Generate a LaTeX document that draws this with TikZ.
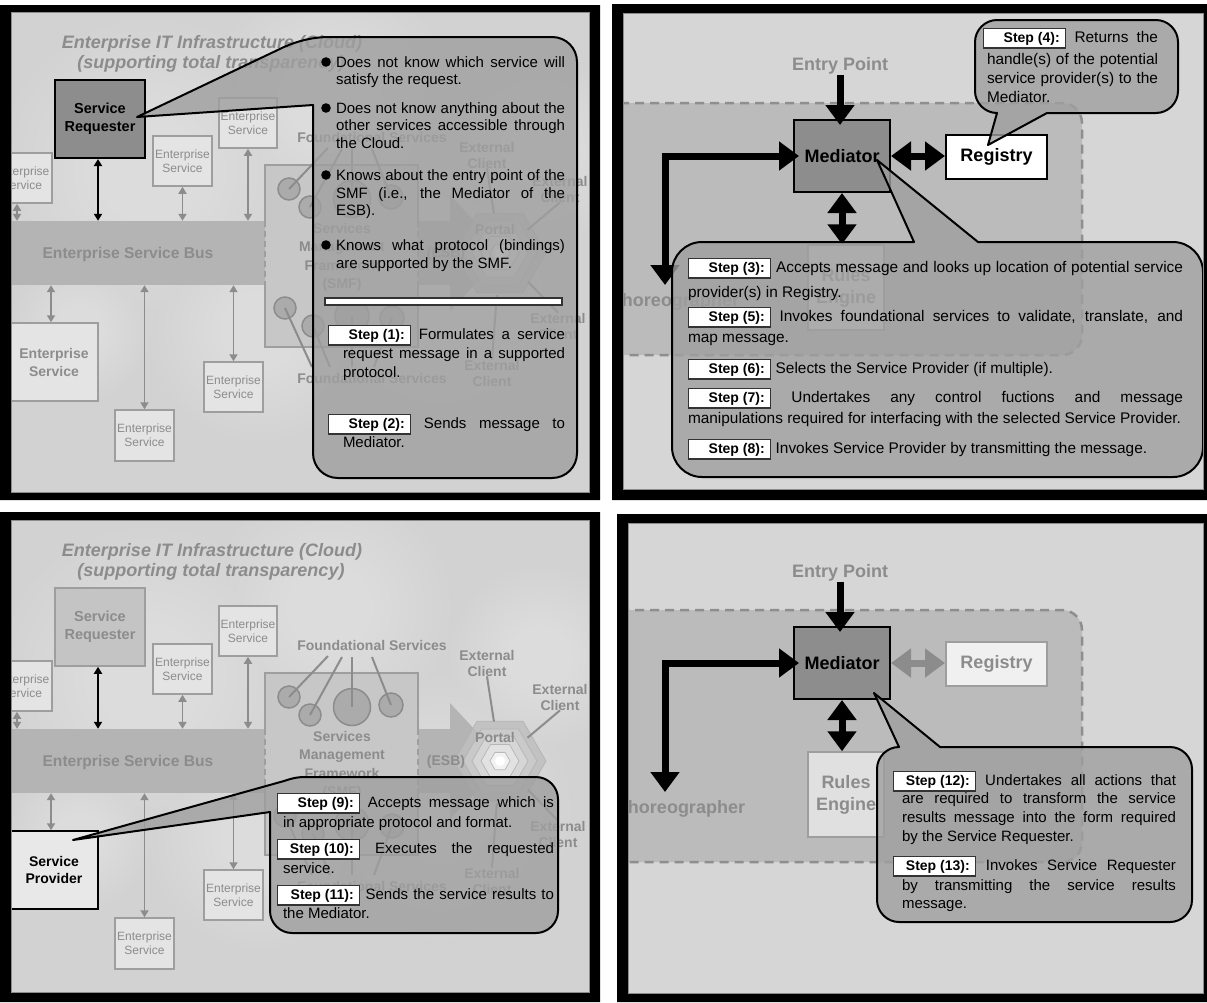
\documentclass[tikz,border=0pt]{standalone}
\usepackage{fontspec}
\setmainfont{Liberation Sans}
\usetikzlibrary{arrows.meta,shapes.geometric,calc}

\definecolor{fadetxt}{HTML}{8C8C8C}
\definecolor{esfill}{HTML}{E4E4E4}
\definecolor{esdraw}{HTML}{9E9E9E}
\definecolor{busfill}{HTML}{B4B4B4}
\definecolor{smffill}{HTML}{C7C7C7}
\definecolor{circfill}{HTML}{ABABAB}
\definecolor{bgcloud}{HTML}{D2D2D2}
\definecolor{bgflat}{HTML}{D6D6D6}
\definecolor{regfill}{HTML}{BBBBBB}
\definecolor{regdash}{HTML}{8E8E8E}
\definecolor{medfill}{HTML}{8D8D8D}
\definecolor{callfill}{HTML}{9F9F9F}

\newcommand\stepbx[1]{{\setlength\fboxsep{2.5pt}\setlength\fboxrule{1.2pt}\fcolorbox{black!80}{white}{\makebox[76pt][r]{\fontsize{14}{14}\selectfont\bfseries #1\hspace{3pt}}}}}
\newcommand\jl[2]{\makebox[#1pt][s]{#2}}

\tikzset{
 txt/.style={inner sep=0,outer sep=0,anchor=base west,font=\fontsize{15}{18}\selectfont,text=black},
 txtb/.style={txt,font=\fontsize{15.4}{18}\selectfont},
 ttl/.style={inner sep=0,font=\fontsize{18}{20}\selectfont\bfseries\itshape,text=fadetxt},
 flbl/.style={inner sep=0,font=\fontsize{14}{16}\selectfont\bfseries,text=fadetxt,align=center},
 esbox/.style={draw=esdraw,fill=esfill,line width=1.5pt,text=fadetxt,font=\fontsize{12}{14}\selectfont,align=center,inner sep=0},
 esbig/.style={esbox,font=\fontsize{14}{18}\selectfont\bfseries},
 srdark/.style={draw=black,fill=medfill,line width=2pt,font=\fontsize{14.5}{18}\selectfont\bfseries,align=center,inner sep=0},
 srfade/.style={draw=esdraw,fill=black!23,line width=1.5pt,text=fadetxt,font=\fontsize{14.5}{18}\selectfont\bfseries,align=center,inner sep=0},
 spbox/.style={draw=black,fill=black!9,line width=1.5pt,font=\fontsize{14}{17}\selectfont\bfseries,align=center,inner sep=0},
 smfbox/.style={fill=smffill,inner sep=0},
 smfline/.style={draw=esdraw,line width=1.5pt},
 fcirc/.style={circle,draw=fadetxt,fill=circfill,line width=1.5pt,inner sep=0},
 fline/.style={draw=fadetxt,line width=2pt},
 hexa/.style={regular polygon,regular polygon sides=6,inner sep=0,draw=black!30,line width=0.8pt,opacity=0.85},
 garrow/.style={draw=fadetxt,line width=1.8pt,{Triangle[length=7pt,width=8pt]}-{Triangle[length=7pt,width=8pt]}},
 bigl/.style={inner sep=0,font=\fontsize{18}{20}\selectfont\bfseries,text=fadetxt},
 rulesbox/.style={draw=esdraw,fill=black!12,line width=1.5pt,text=fadetxt,font=\fontsize{18}{22}\selectfont\bfseries,align=center,inner sep=0},
 medbox/.style={draw=black,fill=medfill,line width=2pt,font=\fontsize{18}{20}\selectfont\bfseries,inner sep=0},
 regon/.style={draw=black,fill=white,line width=2pt,font=\fontsize{18}{20}\selectfont\bfseries,inner sep=0},
 regoff/.style={draw=esdraw,fill=black!6,line width=2pt,text=fadetxt,font=\fontsize{18}{20}\selectfont\bfseries,inner sep=0},
 bigarrow/.style={line width=7pt,draw=black,>={Triangle[length=20pt,width=28pt]}},
 regionst/.style={fill=regfill,draw=regdash,line width=2.5pt,dash pattern=on 9pt off 6pt},
 bubble/.style={fill=callfill,fill opacity=0.8,draw=black,line width=2pt,line join=round},
 bar/.style={draw=black!80,fill=white,line width=1.3pt,inner sep=0},
}

% scene of panels 1 and 3 (panel-1 coordinates)
\newcommand\cloudscene[3]{%
 \foreach \k in {1.0,0.93,0.86,0.79,0.72,0.65,0.58,0.51,0.44,0.37}{%
  \fill[white,opacity=0.04] (150,170) circle[radius=150*\k] (330,100) circle[radius=120*\k] (440,300) circle[radius=130*\k] (260,330) circle[radius=110*\k] (540,150) circle[radius=90*\k] (80,330) circle[radius=70*\k];}
 \node[ttl] (ttl1) at (212,44) {Enterprise IT Infrastructure (Cloud)};
 \node[ttl] (ttl2) at (211,64) {(supporting total transparency)};
 \node[fill=busfill,inner sep=0,minimum width=450pt,minimum height=64pt] (bus) at (225,253) {};
 \fill[busfill] (450,195) -- (504,253) -- (450,311) -- cycle;
 \node[hexa,minimum size=92pt,fill=black!25] (pa) at (500,253) {};
 \node[hexa,minimum size=74pt,fill=black!20] (pb) at (500,253) {};
 \node[hexa,minimum size=56pt,fill=black!15] (pc) at (500,253) {};
 \node[hexa,minimum size=38pt,fill=black!10] (pd) at (500,253) {};
 \node[hexa,minimum size=20pt,fill=black!4] (pe) at (500,253) {};
 \fill[white] (pe.center) circle[radius=5];
 \node[smfbox,minimum width=153pt,minimum height=182pt] (smf) at (341.5,256) {};
 \draw[smfline] (smf.west |- bus.north) -- (smf.north west) -- (smf.north east) -- (smf.east |- bus.north);
 \draw[smfline] (smf.west |- bus.south) -- (smf.south west) -- (smf.south east) -- (smf.east |- bus.south);
 \draw[smfline,dash pattern=on 6pt off 4pt] (smf.west |- bus.north) -- (smf.west |- bus.south);
 \draw[smfline,dash pattern=on 6pt off 4pt] (smf.east |- bus.north) -- (smf.east |- bus.south);
 \node[flbl,font=\fontsize{15.6}{18}\selectfont\bfseries] (bust) at (128,254) {Enterprise Service Bus};
 \node[flbl] (esb) at (446,254) {(ESB)};
 \node[flbl,font=\fontsize{14}{18.5}\selectfont\bfseries] (smft) at (342,257.5) {Services\\Management\\Framework\\(SMF)};
 \node[flbl] (ptl) at (495,229) {Portal};
 \node[fcirc,minimum size=22pt] (c1) at (289,189) {};
 \node[fcirc,minimum size=22pt] (c2) at (310,207) {};
 \node[fcirc,minimum size=37pt] (c3) at (352,199) {};
 \node[fcirc,minimum size=24pt] (c4) at (391,197) {};
 \node[fcirc,minimum size=22pt] (c5) at (285,308) {};
 \node[fcirc,minimum size=22pt] (c6) at (313,326) {};
 \node[fcirc,minimum size=34pt] (c7) at (352,316) {};
 \node[fcirc,minimum size=24pt] (c8) at (392,318) {};
 \node[flbl] (fs) at (372,137) {Foundational Services};
 \node[flbl] (fs2) at (372,378) {Foundational Services};
 \coordinate (f1) at (328,148); \coordinate (f2) at (342,149);
 \coordinate (f3) at (352,149); \coordinate (f4) at (372,149);
 \coordinate (g1) at (312,367); \coordinate (g2) at (330,367);
 \coordinate (g3) at (352,367); \coordinate (g4) at (374,367);
 \draw[fline] (c1.center) -- (f1); \draw[fline] (c2.center) -- (f2);
 \draw[fline] (c3.center) -- (f3); \draw[fline] (c4.center) -- (f4);
 \draw[fline] (c5.center) -- (g1); \draw[fline] (c6.center) -- (g2);
 \draw[fline] (c7.center) -- (g3); \draw[fline] (c8.center) -- (g4);
 \node[flbl] (ec1) at (487,155) {External\\Client};
 \node[flbl] (ec2) at (560,189) {External\\Client};
 \node[flbl] (ec3) at (558,326) {External\\Client};
 \node[flbl] (ec4) at (492,373) {External\\Client};
 \draw[fline] (ec1.south) -- ($(pa.center)!40pt!(ec1.south)$);
 \draw[fline] (ec2.south) -- ($(pa.center)!36pt!(ec2.south)$);
 \draw[fline] (ec3.north) -- ($(pa.center)!40pt!(ec3.north)$);
 \draw[fline] (ec4.north) -- ($(pa.center)!42pt!(ec4.north)$);
 \node[esbox,minimum width=60pt,minimum height=50pt] (esA) at (22,178) {Enterprise\\Service};
 \node[esbox,minimum width=59pt,minimum height=50pt] (esB) at (182.5,161) {Enterprise\\Service};
 \node[esbox,minimum width=58pt,minimum height=50pt] (esC) at (248,123) {Enterprise\\Service};
 \node[esbox,minimum width=59pt,minimum height=51pt] (esE) at (144.5,435.5) {Enterprise\\Service};
 \node[esbox,minimum width=59pt,minimum height=50pt] (esF) at (233.5,387) {Enterprise\\Service};
 \node[#2,minimum width=88pt,minimum height=78pt] (esD) at (54,362) {#3};
 \node[#1,minimum width=90pt,minimum height=78pt] (sr) at (100,119) {Service\\Requester};
 \draw[garrow] ([xshift=-5pt]esA.south) -- ([xshift=-5pt]esA.south |- bus.north);
 \draw[garrow] (esB.south) -- (esB.south |- bus.north);
 \draw[garrow] (esC.south) -- (esC.south |- bus.north);
 \draw[garrow] ([xshift=-3pt]esD.north) -- ([xshift=-3pt]esD.north |- bus.south);
 \draw[garrow] (esE.north) -- (esE.north |- bus.south);
 \draw[garrow] (esF.north) -- (esF.north |- bus.south);
 \draw[garrow,draw=black] ([xshift=-2pt]sr.south) -- ([xshift=-2pt]sr.south |- bus.north);
}

% scene of panels 2 and 4 (panel-2 coordinates)
\newcommand\medscene[3]{%
 \draw[regionst] (590,103) -- (1062,103) .. controls (1073,103) and (1082,112) .. (1082,123) -- (1082,335) .. controls (1082,346) and (1073,355) .. (1062,355) -- (590,355) -- cycle;
 \node[bigl] (ep) at (840,66) {Entry Point};
 \node[bigl] (ch) at (#3,302) {Choreographer};
 \node[rulesbox,minimum width=76pt,minimum height=85pt] (rl) at (846,287.5) {Rules\\Engine};
 \node[medbox,minimum width=96pt,minimum height=72pt] (med) at (842,156) {Mediator};
 \node[#1,minimum width=101pt,minimum height=44pt] (reg) at (996.5,157) {Registry};
 \coordinate (cz) at (665,285);
 \draw[bigarrow,->,shorten >=-6pt] (ep.south) -- (ep.south |- med.north);
 \draw[bigarrow,<->,#2] (med.east) -- (med.east -| reg.west);
 \draw[bigarrow,<->] (med.south) -- (med.south |- rl.north);
 \draw[bigarrow,<->,shorten >=-6pt] (cz) |- (med.west);
}

\begin{document}
\begin{tikzpicture}[x=1pt,y=-1pt]
\useasboundingbox (0,0) rectangle (1207,1002);
\fill[white] (0,0) rectangle (1207,1002);

% ================= Panel 1
\begin{scope}
\clip (11,12) rectangle (590,493);
\fill[bgcloud] (11,12) rectangle (590,493);
\begin{scope}[name prefix=p1-]
\cloudscene{srdark}{esbig}{Enterprise\\Service}
\end{scope}
\coordinate (t1) at (137,117);
\draw[bubble] (t1) -- (313,105) -- (313,453) .. controls (313,467) and (324,478) .. (338,478) -- (552,478) .. controls (566,478) and (577,467) .. (577,453) -- (577,62) .. controls (577,48) and (566,37) .. (552,37) -- (330,37) .. controls (312,37) and (298,41) .. (284,47) -- cycle;
\foreach \yy in {62,108,175,245} \fill (326,\yy) circle[radius=4.8];
\node[txt] (b1a) at (336,67) {\jl{229}{Does not know which service will}};
\node[txt] (b1b) at (336,84.5) {satisfy the request.};
\node[txt] (b2a) at (336,113) {\jl{229}{Does not know anything about the}};
\node[txt] (b2b) at (336,130.5) {\jl{229}{other services accessible through}};
\node[txt] (b2c) at (336,148) {the Cloud.};
\node[txt] (b3a) at (336,180) {\jl{229}{Knows about the entry point of the}};
\node[txt] (b3b) at (336,198) {\jl{229}{SMF (i.e., the Mediator of the}};
\node[txt] (b3c) at (336,215) {ESB).};
\node[txt] (b4a) at (336,250) {\jl{229}{Knows what protocol (bindings)}};
\node[txt] (b4b) at (336,268) {are supported by the SMF.};
\node[bar,minimum width=237pt,minimum height=7pt] (bar1) at (443.5,301.5) {};
\node[txt] (s1a) at (328,339) {\jl{237}{\stepbx{Step (1):} Formulates a service}};
\node[txt] (s1b) at (343,358) {\jl{222}{request message in a supported}};
\node[txt] (s1c) at (343,377) {protocol.};
\node[txt] (s2a) at (328,428) {\jl{237}{\stepbx{Step (2):} Sends message to}};
\node[txt] (s2b) at (343,447) {Mediator.};
\end{scope}

% ================= Panel 2
\begin{scope}
\clip (623,13) rectangle (1204,490);
\fill[bgflat] (623,13) rectangle (1204,490);
\begin{scope}[name prefix=p2-]
\medscene{regon}{draw=black}{674}
\end{scope}
\coordinate (t4) at (988,145);
\draw[bubble] (t4) -- (1047,113) -- (1156,113) .. controls (1168,113) and (1178,103) .. (1178,91) -- (1178,42) .. controls (1178,30) and (1168,20) .. (1156,20) -- (997,20) .. controls (985,20) and (975,30) .. (975,42) -- (975,91) .. controls (975,103) and (985,113) .. (997,113) -- cycle;
\node[txtb] (s4a) at (983,42) {\jl{175}{\stepbx{Step (4):} Returns the}};
\node[txtb] (s4b) at (987,64) {\jl{171}{handle(s) of the potential}};
\node[txtb] (s4c) at (987,83) {\jl{171}{service provider(s) to the}};
\node[txtb] (s4d) at (987,102.5) {Mediator.};
\coordinate (t3) at (877,160);
\draw[bubble] (t3) -- (978,242) -- (1173,242) .. controls (1189.5,242) and (1203,255.5) .. (1203,272) -- (1203,447) .. controls (1203,463.5) and (1189.5,477) .. (1173,477) -- (702,477) .. controls (685.5,477) and (672,463.5) .. (672,447) -- (672,272) .. controls (672,255.5) and (685.5,242) .. (702,242) -- (914,242) -- cycle;
\node[txtb] (s3a) at (688,272) {\jl{495}{\stepbx{Step (3):} Accepts message and looks up location of potential service}};
\node[txtb] (s3b) at (688,297) {provider(s) in Registry.};
\node[txtb] (s5a) at (688,321) {\jl{495}{\stepbx{Step (5):} Invokes foundational services to validate, translate, and}};
\node[txtb] (s5b) at (688,342) {map message.};
\node[txtb] (s6) at (688,373) {\stepbx{Step (6):} Selects the Service Provider (if multiple).};
\node[txtb] (s7a) at (688,402) {\jl{495}{\stepbx{Step (7):} Undertakes any control fuctions and message}};
\node[txtb] (s7b) at (688,423) {manipulations required for interfacing with the selected Service Provider.};
\node[txtb] (s8) at (688,453) {\stepbx{Step (8):} Invokes Service Provider by transmitting the message.};
\end{scope}

% ================= Panel 3
\begin{scope}
\clip (11,520) rectangle (590,993);
\fill[bgcloud] (11,520) rectangle (590,993);
\begin{scope}[shift={(0,508)},name prefix=p3-]
\cloudscene{srfade}{spbox}{Service\\Provider}
\end{scope}
\coordinate (t9) at (73,840);
\draw[bubble] (t9) -- (270,812) -- (270,911) .. controls (270,923) and (280,933) .. (292,933) -- (536,933) .. controls (548,933) and (558,923) .. (558,911) -- (558,799) .. controls (558,787) and (548,777) .. (536,777) -- (305,777) .. controls (296,777) and (290,779) .. (284,781) -- cycle;
\node[txt] (s9a) at (277,807) {\jl{277}{\stepbx{Step (9):} Accepts message which is}};
\node[txt] (s9b) at (283,827) {in appropriate protocol and format.};
\node[txt] (s10a) at (277,853) {\jl{277}{\stepbx{Step (10):} Executes the requested}};
\node[txt] (s10b) at (283,873) {service.};
\node[txt] (s11a) at (277,899) {\jl{277}{\stepbx{Step (11):} Sends the service results to}};
\node[txt] (s11b) at (283,918) {the Mediator.};
\end{scope}

% ================= Panel 4
\begin{scope}
\clip (628,523) rectangle (1204,994);
\fill[bgflat] (628,523) rectangle (1204,994);
\begin{scope}[shift={(0,507)},name prefix=p4-]
\medscene{regoff}{draw=fadetxt}{680}
\end{scope}
\coordinate (t12) at (874,693);
\draw[bubble] (t12) -- (940,747) -- (1170,747) .. controls (1182,747) and (1192,757) .. (1192,769) -- (1192,900) .. controls (1192,912) and (1182,922) .. (1170,922) -- (899,922) .. controls (887,922) and (877,912) .. (877,900) -- (877,769) .. controls (877,757) and (887,747) .. (899,747) -- cycle;
\node[txt] (s12a) at (893,785) {\jl{283}{\stepbx{Step (12):} Undertakes all actions that}};
\node[txt] (s12b) at (902,803) {\jl{274}{are required to transform the service}};
\node[txt] (s12c) at (902,822) {\jl{274}{results message into the form required}};
\node[txt] (s12d) at (902,841) {by the Service Requester.};
\node[txt] (s13a) at (893,870) {\jl{283}{\stepbx{Step (13):} Invokes Service Requester}};
\node[txt] (s13b) at (902,890) {\jl{274}{by transmitting the service results}};
\node[txt] (s13c) at (902,908) {message.};
\end{scope}

% ================= Frames
\fill[black,even odd rule] (0,5) rectangle (600,500) (11,12) rectangle (590,493);
\fill[black,even odd rule] (612,4) rectangle (1207,500) (623,13) rectangle (1204,490);
\fill[black,even odd rule] (0,512) rectangle (600,1002) (11,520) rectangle (590,993);
\fill[black,even odd rule] (617,514) rectangle (1207,1002) (628,523) rectangle (1204,994);
\draw[black!45,line width=1pt] (11.5,12.5) rectangle (589.5,492.5);
\draw[black!45,line width=1pt] (623.5,13.5) rectangle (1203.5,489.5);
\draw[black!45,line width=1pt] (11.5,520.5) rectangle (589.5,992.5);
\draw[black!45,line width=1pt] (628.5,523.5) rectangle (1203.5,993.5);
\end{tikzpicture}
\end{document}
